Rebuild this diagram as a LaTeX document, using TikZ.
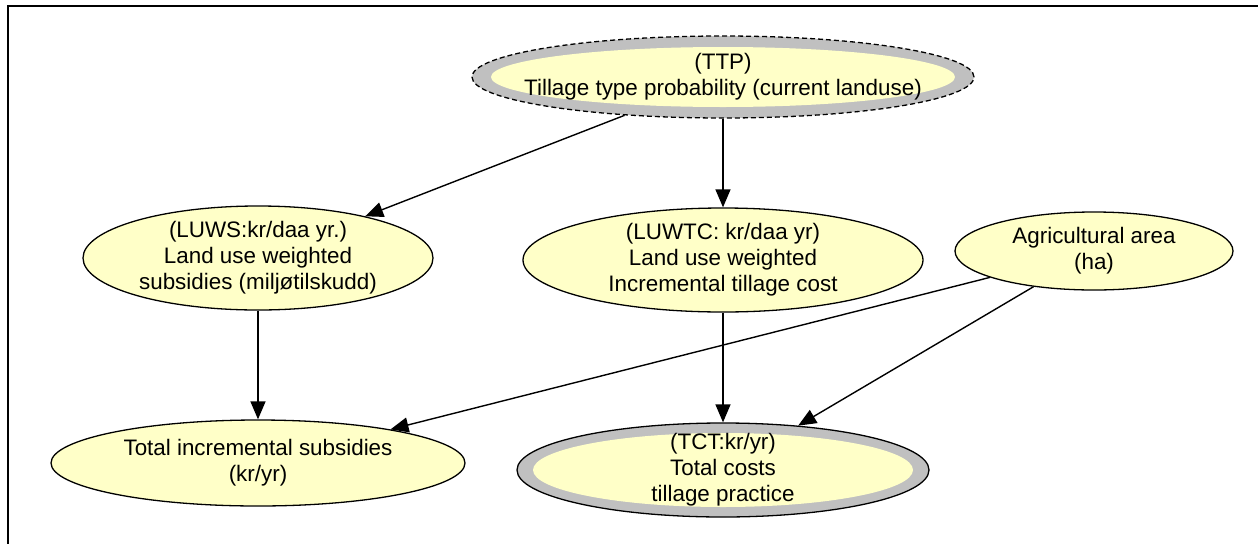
\documentclass[tikz,border=0pt]{standalone}
\usepackage{fontspec}
\setmainfont{Liberation Sans}
\usetikzlibrary{shapes.geometric,arrows.meta}
\definecolor{nodeyellow}{RGB}{255,255,200}
\definecolor{ringgray}{RGB}{192,192,192}
\tikzset{
  txt/.style={align=center, font=\fontsize{22.4}{26}\selectfont, inner sep=0pt},
  ell/.style={ellipse, draw=black, line width=1.3pt, fill=nodeyellow, inner sep=0pt},
  ring/.style={ellipse, draw=black, line width=1.3pt, fill=ringgray, inner sep=0pt},
  arr/.style={line width=1.4pt, -{Triangle[length=18pt,width=15pt]}},
}
\begin{document}
\begin{tikzpicture}[x=1pt,y=-1pt]
\useasboundingbox (0,0) rectangle (1258,544);
\fill[white] (0,0) rectangle (1258,544);
\draw[line width=2.5pt] (1258,6) -- (8,6) -- (8,544);
% TTP
\node[ring, dash pattern=on 5pt off 3pt, minimum width=502pt, minimum height=82pt] (ttp) at (723,77) {};
\fill[nodeyellow] (ttp.center) ellipse [x radius=232pt, y radius=30pt];
\node[txt] (ttpT) at (ttp.center) {(TTP)\\Tillage type probability (current landuse)};
% LUWS
\node[ell, minimum width=350pt, minimum height=104pt,
  label={[txt]center:{(LUWS:kr/daa yr.)\\Land use weighted\\subsidies (miljøtilskudd)}}] (luws) at (258,258) {};
% LUWTC
\node[ell, minimum width=400pt, minimum height=104pt,
  label={[txt]center:{(LUWTC: kr/daa yr)\\Land use weighted\\Incremental tillage cost}}] (luwtc) at (723,260) {};
% Agricultural area
\node[ell, minimum width=278pt, minimum height=78pt,
  label={[txt]center:{Agricultural area\\(ha)}}] (agri) at (1094,251) {};
% Total incremental subsidies
\node[ell, minimum width=414pt, minimum height=86pt,
  label={[txt]center:{Total incremental subsidies\\(kr/yr)}}] (tis) at (258,463) {};
% TCT
\node[ring, minimum width=412pt, minimum height=94pt] (tct) at (723,470) {};
\fill[nodeyellow] (tct.center) ellipse [x radius=190pt, y radius=37pt];
\node[txt] (tctT) at (tct.center) {(TCT:kr/yr)\\Total costs\\tillage practice};
% connectors
\draw[arr] (ttp) -- (luws);
\draw[arr] (ttp) -- (luwtc);
\draw[arr] (luws) -- (tis);
\draw[arr] (luwtc) -- (tct);
\draw[arr] (agri) -- (tis);
\draw[arr] (agri) -- (tct);
\end{tikzpicture}
\end{document}
